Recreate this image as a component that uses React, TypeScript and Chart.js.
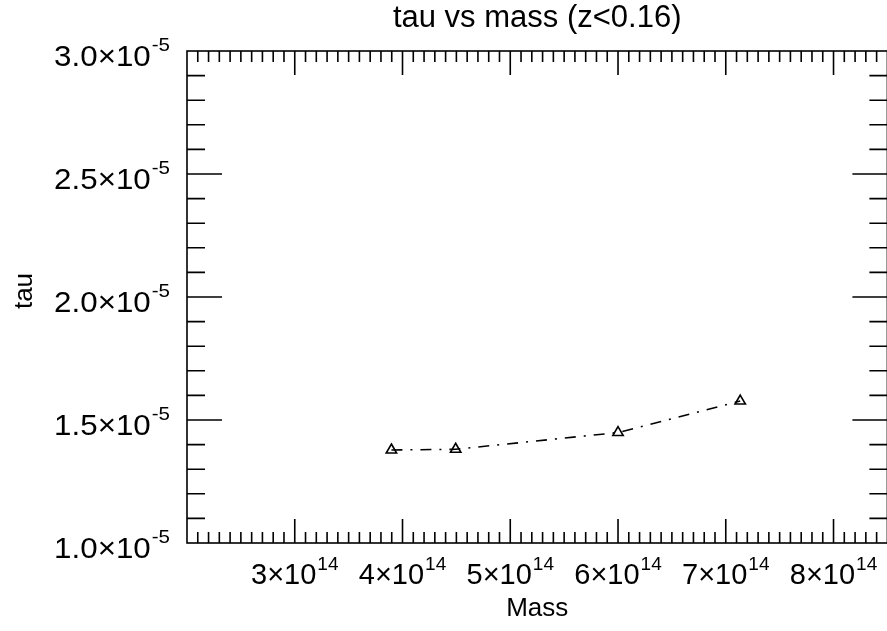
import React, { useEffect, useRef } from "react";
import { Chart, registerables } from "chart.js";

Chart.register(...registerables);

// ---------- data ----------
const chartTitle = "tau vs mass (z<0.16)";
const xAxisTitle = "Mass";
const yAxisTitle = "tau";

const massValues = [3.897e14, 4.493e14, 6.0e14, 7.134e14];
const tauValues = [1.378e-5, 1.381e-5, 1.449e-5, 1.577e-5];

const xRange = [2.0e14, 8.5e14];
const yRange = [1.0e-5, 3.0e-5];

const xMajorTicks = [3e14, 4e14, 5e14, 6e14, 7e14, 8e14];
const xTickMantissas = ["3", "4", "5", "6", "7", "8"];
const xTickExponent = "14";
const xMinorStep = 0.1e14;

const yMajorTicks = [1.0e-5, 1.5e-5, 2.0e-5, 2.5e-5, 3.0e-5];
const yTickMantissas = ["1.0", "1.5", "2.0", "2.5", "3.0"];
const yTickExponent = "-5";
const yMinorStep = 0.1e-5;

// ---------- style ----------
const FONT = "'Liberation Sans', Arial, Helvetica, sans-serif";
const MAIN_SIZE = 29;
const SUP_SIZE = 19;
const SUP_RAISE = 14.5;
const TITLE_SIZE = 31;

function drawSci(
  ctx: CanvasRenderingContext2D,
  mant: string,
  exp: string,
  x: number,
  baseline: number,
  align: "center" | "right",
  sx: number
) {
  const main = mant + "\u00D710";
  ctx.font = `${MAIN_SIZE}px ${FONT}`;
  const mainW = ctx.measureText(main).width * sx;
  ctx.font = `${SUP_SIZE}px ${FONT}`;
  const supW = ctx.measureText(exp).width * sx;
  const gap = 1;
  const total = mainW + gap + supW;
  const startX = align === "center" ? x - total / 2 : x - total;
  ctx.save();
  ctx.translate(startX, baseline);
  ctx.scale(sx, 1);
  ctx.textAlign = "left";
  ctx.textBaseline = "alphabetic";
  ctx.fillStyle = "#000";
  ctx.font = `${MAIN_SIZE}px ${FONT}`;
  ctx.fillText(main, 0, 0);
  ctx.font = `${SUP_SIZE}px ${FONT}`;
  ctx.fillText(exp, (mainW + gap) / sx, -SUP_RAISE);
  ctx.restore();
}

const idlAxesPlugin = {
  id: "idlAxes",
  afterDraw(chart: any) {
    const ctx: CanvasRenderingContext2D = chart.ctx;
    const area = chart.chartArea;
    const xs = chart.scales.x;
    const ys = chart.scales.y;
    ctx.save();
    ctx.strokeStyle = "#000";
    ctx.lineWidth = 1.6;
    ctx.lineCap = "butt";
    // frame
    ctx.strokeRect(area.left, area.top, area.right - area.left, area.bottom - area.top);

    // x ticks (top & bottom)
    const nx = Math.round((xRange[1] - xRange[0]) / xMinorStep);
    for (let i = 1; i < nx; i++) {
      const v = xRange[0] + i * xMinorStep;
      const px = xs.getPixelForValue(v);
      const major = xMajorTicks.some((m) => Math.abs(m - v) < xMinorStep / 10);
      const len = major ? 24 : 11;
      ctx.beginPath();
      ctx.moveTo(px, area.bottom);
      ctx.lineTo(px, area.bottom - len);
      ctx.moveTo(px, area.top);
      ctx.lineTo(px, area.top + len);
      ctx.stroke();
    }
    // y ticks (left & right)
    const ny = Math.round((yRange[1] - yRange[0]) / yMinorStep);
    for (let i = 1; i < ny; i++) {
      const v = yRange[0] + i * yMinorStep;
      const py = ys.getPixelForValue(v);
      const major = yMajorTicks.some((m) => Math.abs(m - v) < yMinorStep / 10);
      const len = major ? 35 : 18;
      ctx.beginPath();
      ctx.moveTo(area.left, py);
      ctx.lineTo(area.left + len, py);
      ctx.moveTo(area.right, py);
      ctx.lineTo(area.right - len, py);
      ctx.stroke();
    }

    // tick labels
    xMajorTicks.forEach((v, i) => {
      const px = xs.getPixelForValue(v);
      drawSci(ctx, xTickMantissas[i], xTickExponent, px, area.bottom + 41, "center", 1.0);
    });
    yMajorTicks.forEach((v, i) => {
      const py = ys.getPixelForValue(v);
      drawSci(ctx, yTickMantissas[i], yTickExponent, area.left - 17, py + 14.5, "right", 1.08);
    });

    // titles
    ctx.fillStyle = "#000";
    ctx.textBaseline = "alphabetic";
    ctx.textAlign = "center";
    const cx = (area.left + area.right) / 2;
    ctx.font = `${TITLE_SIZE}px ${FONT}`;
    ctx.fillText(chartTitle, cx, 27);
    ctx.font = `26px ${FONT}`;
    ctx.fillText(xAxisTitle, cx, 616);
    ctx.save();
    ctx.translate(32, 291);
    ctx.rotate(-Math.PI / 2);
    ctx.fillText(yAxisTitle, 0, 0);
    ctx.restore();
    ctx.restore();
  },
};

export default function App() {
  const ref = useRef<HTMLCanvasElement | null>(null);
  useEffect(() => {
    document.body.style.margin = "0";
    const canvas = ref.current!;
    const chart = new Chart(canvas, {
      type: "scatter",
      data: {
        datasets: [
          {
            data: massValues.map((x, i) => ({ x, y: tauValues[i] })),
            showLine: true,
            borderColor: "#000",
            borderWidth: 1.6,
            borderDash: [11, 8, 2, 8],
            pointStyle: "triangle",
            pointRadius: 6,
            pointBorderWidth: 1.6,
            pointBorderColor: "#000",
            pointBackgroundColor: "rgba(255,255,255,0)",
            tension: 0,
          } as any,
        ],
      },
      options: {
        responsive: false,
        animation: false,
        devicePixelRatio: 1,
        layout: { padding: { left: 187, right: 4, top: 51, bottom: 88 } },
        scales: {
          x: { type: "linear", min: xRange[0], max: xRange[1], display: false },
          y: { type: "linear", min: yRange[0], max: yRange[1], display: false },
        },
        plugins: {
          legend: { display: false },
          tooltip: { enabled: false },
          title: { display: false },
        },
      },
      plugins: [idlAxesPlugin],
    });
    return () => chart.destroy();
  }, []);
  return (
    <div style={{ width: 887, height: 631, overflow: "hidden", background: "#fff" }}>
      <canvas ref={ref} width={895} height={631} style={{ display: "block" }} />
    </div>
  );
}
